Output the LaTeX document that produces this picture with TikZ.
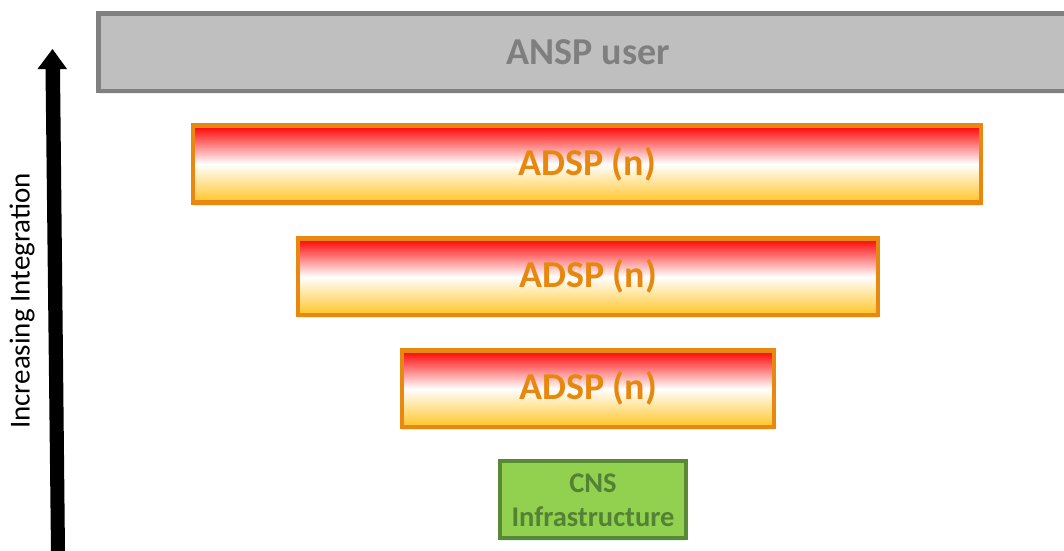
\documentclass[tikz,border=0pt]{standalone}
\usepackage{fontspec}
\setmainfont{Carlito}
\usetikzlibrary{shadows}
\definecolor{userfill}{HTML}{BFBFBF}
\definecolor{userline}{HTML}{808080}
\definecolor{usertext}{HTML}{7F7F7F}
\definecolor{adspline}{HTML}{E8880E}
\definecolor{adsptext}{HTML}{E8870E}
\definecolor{adspgold}{HTML}{FFC426}
\definecolor{cnsfill}{HTML}{92D050}
\definecolor{cnsline}{HTML}{588A35}
\definecolor{cnstext}{HTML}{548235}
\definecolor{shade}{HTML}{DCE6F2}
\tikzset{
  boxshadow/.style={drop shadow={shadow xshift=0pt, shadow yshift=-3pt, fill=shade, opacity=0.6}},
  userbox/.style={draw=userline, fill=userfill, line width=4.5pt, boxshadow,
    text=usertext, font=\fontsize{38}{40}\selectfont\bfseries},
  adspbox/.style={draw=adspline, line width=4.5pt, top color=red,
    bottom color=adspgold, middle color=white, boxshadow, text=adsptext,
    font=\fontsize{38}{40}\selectfont\bfseries},
  cnsbox/.style={draw=cnsline, fill=cnsfill, line width=4pt, boxshadow},
  cnslabel/.style={text=cnstext, align=center, font=\fontsize{28.5}{34}\selectfont\bfseries},
  sidelabel/.style={font=\fontsize{29}{31}\selectfont, rotate=90}
}
\begin{document}
\begin{tikzpicture}[x=1pt, y=-1pt]
  \useasboundingbox (0,0) rectangle (1064,550);
  % stacked layers
  \draw[userbox] (98.5,13.5) rectangle (1078,91) node[midway] (user) {ANSP user};
  \draw[adspbox] (193,125.5) rectangle (981,202.5) node[midway] (adsp1) {ADSP (n)};
  \draw[adspbox] (298,238.5) rectangle (878,315) node[midway] (adsp2) {ADSP (n)};
  \draw[adspbox] (402,350.5) rectangle (774,427) node[midway] (adsp3) {ADSP (n)};
  \draw[cnsbox] (500,461) rectangle (686,538);
  \node[cnslabel] (cns) at (593,500) {CNS\\Infrastructure};
  % integration arrow
  \coordinate (atip) at (52.5,49);
  \fill[black] (51,552) -- (65,552) -- (60,69) -- (67,69) -- (atip) -- (37.5,69) -- (45.5,69) -- cycle;
  \node[sidelabel] (lbl) at (22,301) {Increasing Integration};
\end{tikzpicture}
\end{document}
